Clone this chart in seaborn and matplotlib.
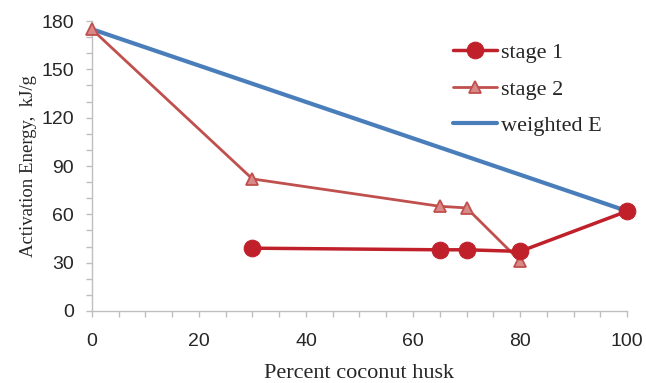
import matplotlib
matplotlib.use("Agg")
import matplotlib.pyplot as plt
import seaborn as sns
import pandas as pd
from matplotlib.ticker import MultipleLocator

x_stage1 = [30, 65, 70, 80, 100]
y_stage1 = [39, 38, 38, 37, 62]
x_stage2 = [0, 30, 65, 70, 80]
y_stage2 = [175, 82, 65, 64, 31]
x_weighted = [0, 100]
y_weighted = [175, 62]
x_ticks = [0, 20, 40, 60, 80, 100]
y_ticks = [0, 30, 60, 90, 120, 150, 180]

sns.set_style("white")
fig = plt.figure(figsize=(6.46, 3.83), dpi=100)
ax = fig.add_axes([0.142, 0.188, 0.829, 0.757])

df1 = pd.DataFrame({"x": x_stage1, "y": y_stage1})
df2 = pd.DataFrame({"x": x_stage2, "y": y_stage2})
dfw = pd.DataFrame({"x": x_weighted, "y": y_weighted})

sns.lineplot(data=dfw, x="x", y="y", ax=ax, color="#4A7EBB", linewidth=3,
             label="weighted E", zorder=2)
sns.lineplot(data=df2, x="x", y="y", ax=ax, color="#C0504D", linewidth=2,
             marker="^", markersize=8, markerfacecolor="#D98A88",
             markeredgecolor="#C0504D", markeredgewidth=1.3, label="stage 2", zorder=3)
sns.lineplot(data=df1, x="x", y="y", ax=ax, color="#C0202A", linewidth=2.5,
             marker="o", markersize=12, markerfacecolor="#C0202A",
             markeredgecolor="#C0202A", label="stage 1", zorder=4)

ax.set_xlim(0, 100)
ax.set_ylim(0, 180)
ax.set_xticks(x_ticks)
ax.set_yticks(y_ticks)
ax.xaxis.set_minor_locator(MultipleLocator(5))
ax.yaxis.set_minor_locator(MultipleLocator(10))
ax.tick_params(axis="both", which="both", direction="out", color="#BFBFBF",
               length=4, width=1, bottom=True, left=True, labelsize=14,
               labelcolor="#262626")
ax.tick_params(axis="x", which="both", pad=12)
ax.tick_params(axis="y", which="both", pad=9)
for lab in ax.get_xticklabels() + ax.get_yticklabels():
    lab.set_family("Liberation Sans")
for side in ["top", "right"]:
    ax.spines[side].set_visible(False)
for side in ["left", "bottom"]:
    ax.spines[side].set_color("#BFBFBF")
    ax.spines[side].set_linewidth(1)
ax.set_xlabel("Percent coconut husk", family="Liberation Serif", fontsize=16,
              color="#262626", labelpad=10)
ax.set_ylabel("Activation Energy,  kJ/g", family="Liberation Serif", fontsize=13.5,
              color="#262626", labelpad=3)

handles, labels = ax.get_legend_handles_labels()
order = [labels.index("stage 1"), labels.index("stage 2"), labels.index("weighted E")]
ax.legend([handles[i] for i in order], [labels[i] for i in order],
          loc="upper left", bbox_to_anchor=(0.637, 0.995), frameon=False,
          prop={"family": "Liberation Serif", "size": 16}, handlelength=2.0,
          handletextpad=0.15, labelspacing=0.72, labelcolor="#262626")
for ln in ax.lines:
    ln.set_clip_on(False)

fig.savefig("out.png", dpi=100)
